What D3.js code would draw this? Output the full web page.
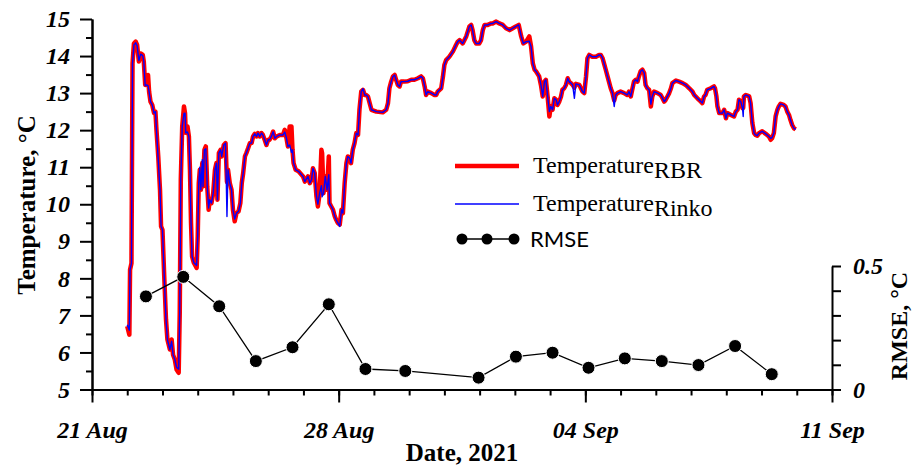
<!DOCTYPE html>
<html>
<head>
<meta charset="utf-8">
<script src="https://cdn.jsdelivr.net/npm/d3@7"></script>
<style>
  body { margin: 0; background: #fff; }
  svg { display: block; }
</style>
</head>
<body>
<svg id="chart" width="915" height="466"></svg>
<script>
// days since 21 Aug 2021 00:00
const tempDays = [1.00,1.06,1.08,1.12,1.15,1.19,1.24,1.28,1.33,1.38,1.44,1.47,1.51,1.55,1.59,1.62,1.66,1.71,1.76,1.80,
  1.83,1.88,1.93,1.96,2.00,2.05,2.10,2.14,2.21,2.26,2.30,2.35,2.40,2.46,2.49,2.52,2.56,2.61,2.64,2.66,
  2.71,2.75,2.78,2.81,2.84,2.89,2.97,3.00,3.03,3.06,3.09,3.13,3.15,3.19,3.23,3.27,3.31,3.34,3.39,3.44,
  3.49,3.53,3.56,3.60,3.65,3.68,3.74,3.79,3.83,3.86,3.91,3.96,4.00,4.05,4.10,4.16,4.21,4.25,4.29,4.34,
  4.38,4.43,4.48,4.53,4.57,4.62,4.67,4.71,4.76,4.81,4.85,4.90,4.95,5.00,5.04,5.09,5.14,5.19,5.24,5.33,
  5.42,5.47,5.52,5.56,5.61,5.66,5.69,5.72,5.78,5.86,5.99,6.04,6.13,6.18,6.23,6.27,6.32,6.37,6.41,6.46,
  6.51,6.53,6.57,6.62,6.67,6.72,6.74,6.79,6.84,6.89,6.93,6.98,7.03,7.08,7.12,7.17,7.22,7.26,7.31,7.35,
  7.40,7.45,7.50,7.55,7.59,7.64,7.69,7.74,7.78,7.83,7.88,7.93,8.07,8.25,8.35,8.40,8.44,8.49,8.54,8.59,
  8.63,8.68,8.73,8.77,8.87,8.96,9.06,9.15,9.25,9.34,9.39,9.44,9.48,9.53,9.63,9.72,9.77,9.81,9.91,9.96,
  10.00,10.05,10.14,10.24,10.33,10.38,10.43,10.52,10.62,10.71,10.76,10.80,10.85,10.90,10.99,11.04,11.09,11.14,11.23,11.33,
  11.37,11.47,11.56,11.66,11.75,11.85,11.94,12.03,12.11,12.18,12.24,12.32,12.41,12.46,12.51,12.56,12.60,12.69,12.74,12.79,
  12.84,12.88,12.93,12.98,13.02,13.07,13.12,13.17,13.21,13.26,13.31,13.35,13.40,13.45,13.50,13.54,13.59,13.64,13.69,13.73,
  13.83,13.92,13.97,14.02,14.06,14.11,14.20,14.30,14.39,14.44,14.49,14.53,14.58,14.63,14.67,14.72,14.77,14.82,14.86,14.91,
  15.00,15.10,15.19,15.24,15.29,15.33,15.38,15.43,15.48,15.52,15.57,15.62,15.67,15.71,15.76,15.81,15.86,15.90,15.95,16.05,
  16.14,16.19,16.24,16.28,16.33,16.38,16.43,16.47,16.57,16.66,16.76,16.85,16.95,17.04,17.09,17.18,17.28,17.32,17.37,17.41,
  17.46,17.56,17.65,17.68,17.72,17.75,17.80,17.89,17.94,17.99,18.03,18.13,18.22,18.27,18.32,18.36,18.41,18.46,18.48,18.50,
  18.55,18.60,18.65,18.69,18.74,18.79,18.83,18.88,18.93,19.02,19.12,19.21,19.26,19.30,19.35,19.40,19.45,19.49,19.54,19.63,
  19.68,19.73,19.78,19.82,19.87,19.92,19.97];

const tempRBR = [6.71,6.48,8.23,8.41,13.80,14.34,14.39,14.30,13.85,14.07,14.03,13.85,13.22,13.27,13.49,13.04,12.77,12.68,12.46,12.50,
  12.00,11.29,10.39,9.40,9.31,8.05,6.89,6.35,6.08,6.35,5.94,5.81,5.54,5.45,7.07,10.66,12.10,12.64,12.46,11.93,
  12.10,11.83,10.93,9.50,8.59,8.42,8.28,9.14,10.57,10.93,10.39,11.11,10.48,11.47,11.56,10.48,9.85,10.12,10.03,10.30,
  10.93,11.11,10.12,11.38,11.47,11.29,11.60,11.65,10.60,10.93,10.57,10.39,9.85,9.54,9.76,9.81,10.03,10.57,10.84,11.29,
  11.38,11.51,11.65,11.65,11.83,11.90,11.83,11.92,11.83,11.92,11.87,11.74,11.60,11.74,11.74,11.83,11.96,11.78,11.83,11.87,
  11.87,12.01,11.78,11.56,12.10,12.10,11.47,11.11,10.93,10.89,10.75,10.61,10.75,10.57,10.66,10.97,10.84,10.21,9.94,10.30,
  11.47,11.38,10.30,10.75,10.39,11.29,10.03,9.94,9.85,9.67,9.58,9.49,9.45,9.85,9.76,10.57,11.11,11.29,11.25,11.11,
  11.47,11.65,11.92,11.87,12.55,13.04,13.09,12.95,12.95,12.91,12.73,12.55,12.50,12.48,12.55,12.73,13.13,13.31,13.45,13.49,
  13.36,13.22,13.18,13.31,13.31,13.32,13.36,13.36,13.40,13.45,13.40,13.18,12.95,13.04,13.00,12.95,12.95,13.04,13.13,13.45,
  13.76,13.89,13.98,14.12,14.30,14.39,14.43,14.34,14.53,14.80,14.84,14.70,14.43,14.34,14.34,14.43,14.70,14.84,14.84,14.88,
  14.88,14.93,14.88,14.84,14.75,14.70,14.75,14.80,14.84,14.53,14.34,14.39,14.53,14.26,13.80,13.63,13.59,13.45,13.22,12.91,
  13.31,13.36,12.91,12.37,12.64,12.55,12.86,12.82,12.68,12.77,12.91,13.09,13.13,13.22,13.40,13.31,13.27,13.22,13.15,13.25,
  13.22,13.04,13.00,13.45,13.94,14.03,13.98,13.98,14.03,14.03,13.94,13.80,13.63,13.45,13.31,13.13,13.00,12.80,12.95,13.00,
  13.04,13.00,12.95,13.04,12.91,13.09,13.31,13.36,13.31,13.45,13.59,13.63,13.54,13.22,13.13,13.09,12.64,12.91,13.04,13.00,
  12.95,12.86,12.77,12.82,12.91,13.00,13.13,13.27,13.34,13.31,13.27,13.22,13.13,13.04,12.95,12.86,12.77,12.73,12.91,12.95,
  13.09,13.13,13.18,13.13,12.91,12.64,12.46,12.46,12.55,12.32,12.46,12.41,12.37,12.50,12.55,12.82,12.77,12.59,12.60,12.91,
  12.95,12.93,12.91,12.73,12.19,11.92,11.87,11.85,11.92,11.97,11.90,11.83,11.74,11.78,11.92,12.37,12.55,12.64,12.71,12.68,
  12.64,12.50,12.41,12.28,12.14,12.05,12.02];

const tempRinko = [6.75,6.60,8.23,8.41,13.80,14.30,14.36,14.28,13.88,14.05,14.01,13.85,13.20,13.22,13.20,13.04,12.77,12.68,12.46,12.50,
  12.00,11.20,10.39,9.40,9.31,8.05,6.89,6.35,6.08,6.30,5.94,5.81,5.60,5.55,7.07,10.66,12.10,12.45,12.46,11.93,
  11.95,11.83,10.93,9.50,8.59,8.42,8.35,9.14,10.57,11.00,10.39,11.20,10.48,11.47,11.50,10.48,9.90,10.12,10.03,10.30,
  10.93,11.11,10.12,11.38,11.47,11.29,11.60,11.65,9.67,10.93,10.57,10.39,9.85,9.60,9.76,9.81,10.03,10.57,10.84,11.29,
  11.38,11.51,11.65,11.65,11.83,11.90,11.83,11.92,11.83,11.92,11.87,11.74,11.60,11.74,11.74,11.83,11.96,11.78,11.83,11.87,
  11.87,11.95,11.78,11.56,11.60,11.40,11.47,11.11,10.93,10.89,10.75,10.61,10.75,10.57,10.66,10.97,10.84,10.21,10.00,10.30,
  10.50,10.20,10.30,10.75,10.39,10.80,10.03,9.94,9.85,9.67,9.58,9.49,9.40,9.85,9.76,10.57,11.11,11.29,11.25,11.11,
  11.47,11.65,11.92,11.87,12.55,13.04,13.12,12.95,12.95,12.91,12.73,12.55,12.50,12.48,12.55,12.73,13.13,13.31,13.45,13.49,
  13.36,13.22,13.18,13.31,13.31,13.32,13.36,13.36,13.40,13.45,13.40,13.18,12.95,13.04,13.00,12.95,12.95,13.04,13.13,13.45,
  13.76,13.89,13.98,14.12,14.30,14.39,14.43,14.34,14.53,14.80,14.84,14.70,14.43,14.34,14.34,14.43,14.70,14.84,14.84,14.88,
  14.88,14.93,14.88,14.84,14.75,14.70,14.75,14.80,14.84,14.53,14.34,14.39,14.40,14.26,13.80,13.63,13.59,13.45,13.22,12.91,
  13.31,13.36,12.91,12.50,12.64,12.55,12.86,12.82,12.68,12.77,12.91,13.09,13.13,13.22,13.40,13.31,13.27,13.22,12.86,13.25,
  13.22,13.04,13.00,13.45,13.94,14.03,13.98,13.98,14.03,14.03,13.94,13.80,13.63,13.45,13.31,13.13,13.00,12.64,12.95,13.00,
  13.04,13.00,12.95,13.04,12.91,13.09,13.31,13.36,13.31,13.45,13.59,13.63,13.54,13.22,13.13,13.09,12.70,12.91,13.04,13.00,
  12.95,12.86,12.77,12.82,12.91,13.00,13.13,13.27,13.34,13.31,13.27,13.22,13.13,13.04,12.95,12.86,12.77,12.73,12.91,12.95,
  13.09,13.13,13.18,13.13,12.91,12.64,12.46,12.46,12.55,12.32,12.46,12.41,12.37,12.50,12.55,12.82,12.77,12.59,12.37,12.91,
  12.95,12.93,12.91,12.73,12.19,11.92,11.87,11.85,11.92,11.97,11.90,11.83,11.78,11.80,11.92,12.37,12.55,12.64,12.71,12.68,
  12.64,12.50,12.41,12.28,12.14,12.05,12.02];

const rmseDays = [1.53,2.59,3.61,4.65,5.69,6.72,7.76,8.89,10.97,12.03,13.07,14.09,15.12,16.17,17.21,18.25,19.29];
const rmseValues = [0.377,0.456,0.337,0.115,0.171,0.345,0.083,0.075,0.048,0.133,0.149,0.088,0.126,0.115,0.099,0.176,0.062];

const xMajorTicks = ["2021-08-21","2021-08-28","2021-09-04","2021-09-11"];
const yMajorTicks = [5,6,7,8,9,10,11,12,13,14,15];
const yRightTicks = [0,0.1,0.2,0.3,0.4,0.5];
const legendLabels = [["Temperature","RBR"],["Temperature","Rinko"],["RMSE",""]];

const startDate = new Date(2021, 7, 21);
const toDate = d => new Date(startDate.getTime() + d * 864e5);
const parseDay = d3.timeParse("%Y-%m-%d");

const svg = d3.select("#chart");
const x0 = 92, x1 = 832, yTop = 19, yBot = 389.5;

const x = d3.scaleTime().domain([startDate, parseDay("2021-09-11")]).range([x0, x1]);
const y = d3.scaleLinear().domain([5, 15]).range([yBot, yTop]);
const yR = d3.scaleLinear().domain([0, 0.5]).range([yBot, 266]);

const tickFont = g => g.selectAll("text")
  .attr("font-family", "Liberation Serif, Times New Roman, serif")
  .attr("font-weight", "bold").attr("font-style", "italic")
  .attr("font-size", 24).attr("fill", "#000");
const axisStyle = g => {
  g.attr("color", "#000");
  g.selectAll("line, path").attr("stroke-width", 2);
};

// left axis
svg.append("g").attr("transform", `translate(${x0},0)`)
  .call(d3.axisLeft(y).tickValues(d3.range(5.5, 15, 1)).tickSize(6).tickSizeOuter(0).tickFormat(""))
  .call(axisStyle);
svg.append("g").attr("transform", `translate(${x0},0)`)
  .call(d3.axisLeft(y).tickValues(yMajorTicks).tickSize(12).tickSizeOuter(0).tickPadding(10).tickFormat(d3.format("d")))
  .call(axisStyle).call(tickFont);

// bottom axis
svg.append("g").attr("transform", `translate(0,${yBot})`)
  .call(d3.axisBottom(x).ticks(d3.timeDay.every(1)).tickSize(6).tickSizeOuter(0).tickFormat(""))
  .call(axisStyle);
svg.append("g").attr("transform", `translate(0,${yBot})`)
  .call(d3.axisBottom(x).tickValues(xMajorTicks.map(parseDay)).tickSize(13).tickSizeOuter(0)
    .tickFormat(d3.timeFormat("%d %b")))
  .call(axisStyle).call(tickFont)
  .call(g => g.selectAll("text").attr("y", 48).attr("dy", null));

// right axis
svg.append("g").attr("transform", `translate(${x1},0)`)
  .call(d3.axisRight(yR).tickValues(yRightTicks).tickSize(9).tickSizeOuter(0).tickPadding(12)
    .tickFormat(d => d === 0 ? "0" : d === 0.5 ? "0.5" : ""))
  .call(axisStyle).call(tickFont)
  .call(g => g.selectAll("text").attr("dy", "0.33em"));

// axis titles
const titleFont = s => s.attr("font-family", "Liberation Serif, Times New Roman, serif")
  .attr("font-weight", "bold").attr("font-size", 25).attr("fill", "#000").attr("text-anchor", "middle");
svg.append("text").attr("transform", "translate(35,205) rotate(-90)").text("Temperature, °C").call(titleFont);
svg.append("text").attr("x", 462).attr("y", 461).text("Date, 2021").call(titleFont);
svg.append("text").attr("transform", "translate(907,326) rotate(-90)").text("RMSE, °C").call(titleFont)
  .attr("font-size", 24);

// temperature lines
const tempLine = vals => d3.line()
  .x((d, i) => x(toDate(tempDays[i])))
  .y(d => y(d))(vals);
svg.append("path").attr("d", tempLine(tempRBR))
  .attr("fill", "none").attr("stroke", "#ff0000").attr("stroke-width", 4.5).attr("stroke-linejoin", "round");
svg.append("path").attr("d", tempLine(tempRinko))
  .attr("fill", "none").attr("stroke", "#0000ff").attr("stroke-width", 1.4).attr("stroke-linejoin", "round");

// RMSE
const rmsePts = rmseDays.map((d, i) => [x(toDate(d)), yR(rmseValues[i])]);
svg.append("path").attr("d", d3.line()(rmsePts))
  .attr("fill", "none").attr("stroke", "#000").attr("stroke-width", 1.3);
svg.selectAll(".rmse-dot").data(rmsePts).join("circle")
  .attr("class", "rmse-dot")
  .attr("cx", d => d[0]).attr("cy", d => d[1]).attr("r", 6.5)
  .attr("fill", "#000").attr("stroke", "#fff").attr("stroke-width", 1);

// legend
const lg = svg.append("g");
const lx0 = 455, lx1 = 519, rowsY = [166, 204, 239];
lg.append("line").attr("x1", lx0).attr("x2", lx1).attr("y1", rowsY[0]).attr("y2", rowsY[0])
  .attr("stroke", "#ff0000").attr("stroke-width", 4.5);
lg.append("line").attr("x1", lx0).attr("x2", lx1).attr("y1", rowsY[1]).attr("y2", rowsY[1])
  .attr("stroke", "#0000ff").attr("stroke-width", 1.4);
lg.append("line").attr("x1", lx0 + 6).attr("x2", lx1 - 5).attr("y1", rowsY[2]).attr("y2", rowsY[2])
  .attr("stroke", "#000").attr("stroke-width", 1.3);
[lx0 + 7, (lx0 + lx1) / 2, lx1 - 5].forEach(cx => {
  lg.append("circle").attr("cx", cx).attr("cy", rowsY[2]).attr("r", 5.5).attr("fill", "#000");
});
legendLabels.forEach((lab, i) => {
  const t = lg.append("text").attr("x", 533).attr("y", rowsY[i] + 7).attr("fill", "#000");
  if (lab[1]) {
    t.attr("font-family", "Liberation Serif, Times New Roman, serif").attr("font-size", 24);
    t.append("tspan").text(lab[0]);
    t.append("tspan").attr("dy", 5).text(lab[1]);
  } else {
    t.attr("x", 530).attr("y", rowsY[i] + 8).attr("font-family", "Lato, Noto Sans, sans-serif").attr("font-size", 22).text(lab[0]);
  }
});
</script>
</body>
</html>
